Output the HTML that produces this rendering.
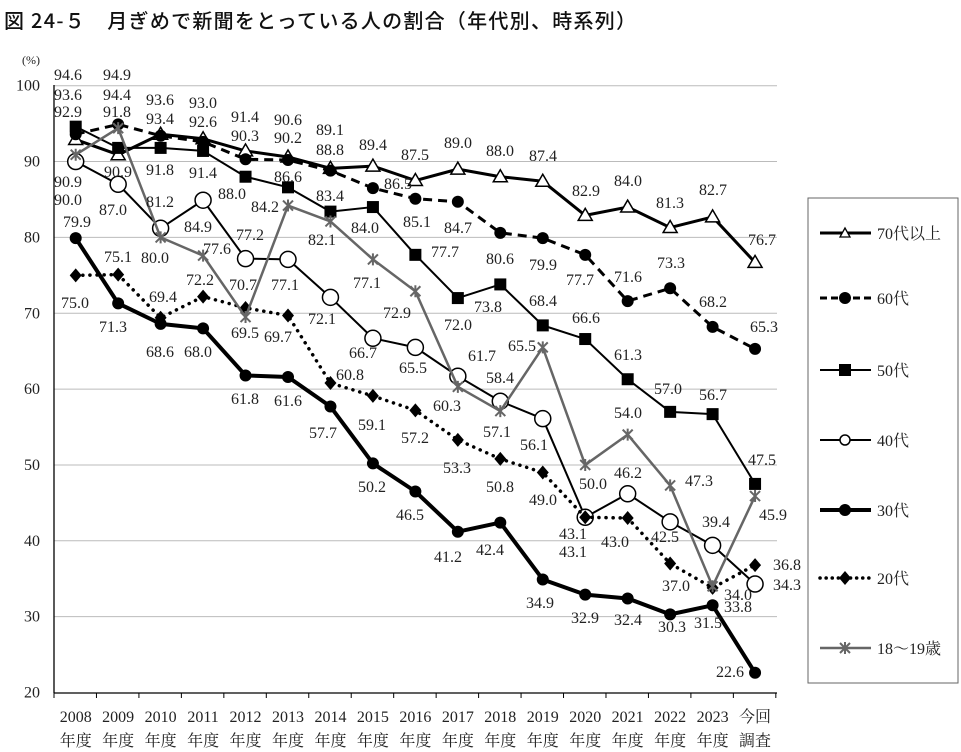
<!DOCTYPE html>
<html><head><meta charset="utf-8">
<style>
html,body{margin:0;padding:0;background:#fff;}
svg{display:block;}
</style></head>
<body>
<svg id="c" width="961" height="752" viewBox="0 0 961 752" xmlns="http://www.w3.org/2000/svg">
<text x="4" y="28" font-family="'Noto Sans CJK JP','Liberation Sans',sans-serif" font-size="20" font-weight="500" fill="#111" textLength="632" lengthAdjust="spacing">図 24-５　月ぎめで新聞をとっている人の割合（年代別、時系列）</text>
<text x="22" y="64" font-family="'Liberation Serif',serif" font-size="12" fill="#222">(%)</text>
</svg>
<script>
const S=document.getElementById('c');const NS='http://www.w3.org/2000/svg';
const FF="'Liberation Serif','Noto Serif CJK SC',serif";
function el(n,a,txt){const e=document.createElementNS(NS,n);for(const k in a)e.setAttribute(k,a[k]);if(txt!=null)e.textContent=txt;S.appendChild(e);return e;}
function tx(x,y,s,anchor,size){return el('text',{x:x,y:y,'font-family':FF,'font-size':size||16,fill:'#222','text-anchor':anchor||'middle'},s);}
const X=i=>75.7+42.46*i, Y=v=>85.7+(100-v)*7.585;
for(let v=30;v<=100;v+=10){el('line',{x1:54,x2:777,y1:Y(v),y2:Y(v),stroke:'#bbb','stroke-width':1});}
for(let v=20;v<=100;v+=10){tx(40,Y(v)+5,String(v),'end',16);}
el('line',{x1:54,x2:54,y1:85,y2:693,stroke:'#000','stroke-width':1.3});
el('line',{x1:54,x2:777,y1:693,y2:693,stroke:'#000','stroke-width':1.3});
for(let i=0;i<=17;i++){const x=54+42.46*i;el('line',{x1:x,x2:x,y1:693,y2:698,stroke:'#000','stroke-width':1});}
const yrs=['2008','2009','2010','2011','2012','2013','2014','2015','2016','2017','2018','2019','2020','2021','2022','2023','今回'];
yrs.forEach((y,i)=>{tx(X(i),722,y,'middle',16);tx(X(i),746,i==16?'調査':'年度','middle',16);});
const D={
a:[92.9,90.9,93.6,93.0,91.4,90.6,89.1,89.4,87.5,89.0,88.0,87.4,82.9,84.0,81.3,82.7,76.7],
b:[93.6,94.9,93.4,92.6,90.3,90.2,88.8,86.5,85.1,84.7,80.6,79.9,77.7,71.6,73.3,68.2,65.3],
c:[94.6,91.8,91.8,91.4,88.0,86.6,83.4,84.0,77.7,72.0,73.8,68.4,66.6,61.3,57.0,56.7,47.5],
d:[90.0,87.0,81.2,84.9,77.2,77.1,72.1,66.7,65.5,61.7,58.4,56.1,43.1,46.2,42.5,39.4,34.3],
e:[79.9,71.3,68.6,68.0,61.8,61.6,57.7,50.2,46.5,41.2,42.4,34.9,32.9,32.4,30.3,31.5,22.6],
f:[75.0,75.1,69.4,72.2,70.7,69.7,60.8,59.1,57.2,53.3,50.8,49.0,43.1,43.0,37.0,33.8,36.8],
g:[90.9,94.4,80.0,77.6,69.5,84.2,82.1,77.1,72.9,60.3,57.1,65.5,50.0,54.0,47.3,34.0,45.9]};
const ST={
a:{s:'#000',w:3,da:null,m:'tri'},b:{s:'#000',w:3,da:'9 6',m:'dot'},c:{s:'#000',w:2,da:null,m:'sq'},
d:{s:'#000',w:2,da:null,m:'oc'},e:{s:'#000',w:4,da:null,m:'dot'},f:{s:'#000',w:3.5,da:'0.1 7',m:'dia'},g:{s:'#666',w:2.5,da:null,m:'star'}};
function marker(m,x,y,col){
 if(m=='tri')el('polygon',{points:`${x},${y-7} ${x-7},${y+5} ${x+7},${y+5}`,fill:'#fff',stroke:'#000','stroke-width':1.5});
 else if(m=='dot')el('circle',{cx:x,cy:y,r:6,fill:'#000'});
 else if(m=='sq')el('rect',{x:x-6,y:y-6,width:12,height:12,fill:'#000'});
 else if(m=='oc')el('circle',{cx:x,cy:y,r:8,fill:'#fff',stroke:'#000','stroke-width':1.5});
 else if(m=='dia')el('polygon',{points:`${x},${y-7} ${x+6},${y} ${x},${y+7} ${x-6},${y}`,fill:'#000'});
 else if(m=='star'){const g=`M${x-5} ${y-5}L${x+5} ${y+5}M${x+5} ${y-5}L${x-5} ${y+5}M${x} ${y-6}L${x} ${y+6}`;el('path',{d:g,stroke:col,'stroke-width':2,fill:'none'});}
}
['a','b','c','e','d','f','g'].forEach(k=>{const st=ST[k];const pts=D[k].map((v,i)=>X(i)+','+Y(v)).join(' ');
 const a={points:pts,fill:'none',stroke:st.s,'stroke-width':st.w,'stroke-linejoin':'round'};
 if(st.da){a['stroke-dasharray']=st.da;} if(k=='f')a['stroke-linecap']='round';
 el('polyline',a);D[k].forEach((v,i)=>marker(st.m,X(i),Y(v),st.s));});
const L=[
[68,75,'94.6'],[68,95,'93.6'],[68,112,'92.9'],[68,182,'90.9'],[68,200,'90.0'],[77,222,'79.9'],[75,303,'75.0'],
[117,75,'94.9'],[117,95,'94.4'],[117,112,'91.8'],[118,172,'90.9'],[113,210,'87.0'],[118,257,'75.1'],[113,327,'71.3'],
[160,100,'93.6'],[160,119,'93.4'],[160,170,'91.8'],[160,202,'81.2'],[155,258,'80.0'],[163,297,'69.4'],[160,352,'68.6'],
[203,103,'93.0'],[203,122,'92.6'],[203,173,'91.4'],[232,194,'88.0'],[198,227,'84.9'],[217,249,'77.6'],[200,280,'72.2'],[198,352,'68.0'],
[245,117,'91.4'],[245,136,'90.3'],[250,235,'77.2'],[243,285,'70.7'],[245,333,'69.5'],[245,399,'61.8'],[265,207,'84.2'],
[288,120,'90.6'],[288,138,'90.2'],[288,177,'86.6'],[285,285,'77.1'],[278,337,'69.7'],[288,401,'61.6'],
[330,130,'89.1'],[330,150,'88.8'],[330,196,'83.4'],[322,240,'82.1'],[322,319,'72.1'],[350,375,'60.8'],[323,433,'57.7'],
[373,145,'89.4'],[398,184,'86.5'],[365,228,'84.0'],[367,283,'77.1'],[363,353,'66.7'],[372,425,'59.1'],[372,487,'50.2'],
[415,155,'87.5'],[417,222,'85.1'],[445,252,'77.7'],[397,313,'72.9'],[413,368,'65.5'],[415,438,'57.2'],[410,515,'46.5'],
[458,143,'89.0'],[458,228,'84.7'],[458,325,'72.0'],[482,356,'61.7'],[447,406,'60.3'],[457,468,'53.3'],[448,557,'41.2'],
[500,151,'88.0'],[500,259,'80.6'],[488,307,'73.8'],[500,378,'58.4'],[497,432,'57.1'],[500,487,'50.8'],[490,550,'42.4'],
[543,156,'87.4'],[543,265,'79.9'],[543,301,'68.4'],[522,346,'65.5'],[534,445,'56.1'],[543,500,'49.0'],[540,603,'34.9'],
[586,191,'82.9'],[580,280,'77.7'],[586,318,'66.6'],[593,484,'50.0'],[573,534,'43.1'],[573,552,'43.1'],[585,618,'32.9'],
[628,181,'84.0'],[628,277,'71.6'],[628,355,'61.3'],[628,413,'54.0'],[628,473,'46.2'],[615,542,'43.0'],[628,620,'32.4'],
[670,203,'81.3'],[671,263,'73.3'],[668,389,'57.0'],[699,481,'47.3'],[665,537,'42.5'],[676,586,'37.0'],[672,627,'30.3'],
[713,190,'82.7'],[713,302,'68.2'],[713,395,'56.7'],[716,522,'39.4'],[738,595,'34.0'],[738,607,'33.8'],[708,623,'31.5'],
[762,240,'76.7'],[764,327,'65.3'],[762,460,'47.5'],[773,515,'45.9'],[787,565,'36.8'],[787,585,'34.3'],[730,672,'22.6']];
L.forEach(l=>tx(l[0],l[1]+5,l[2]));
el('rect',{x:808,y:198,width:150,height:485,fill:'#fff',stroke:'#666','stroke-width':1});
const LG=[['a','70代以上',233],['b','60代',298],['c','50代',370],['d','40代',440],['e','30代',510],['f','20代',578],['g','18～19歳',648]];
LG.forEach(([k,t,y])=>{const st=ST[k];const a={x1:820,x2:871,y1:y,y2:y,stroke:st.s,'stroke-width':st.w};if(st.da)a['stroke-dasharray']=k=='b'?'7 4':'0.1 6';if(k=='f')a['stroke-linecap']='round';el('line',a);
 const m=st.m;if(m=='oc')el('circle',{cx:845,cy:y,r:5,fill:'#fff',stroke:'#000','stroke-width':1.5});else if(m=='tri')el('polygon',{points:`845,${y-5} 840,${y+4} 850,${y+4}`,fill:'#fff',stroke:'#000','stroke-width':1.3});else marker(m,845,y,st.s);
 tx(877,y+6,t,'start',16);});
</script>
</body></html>
